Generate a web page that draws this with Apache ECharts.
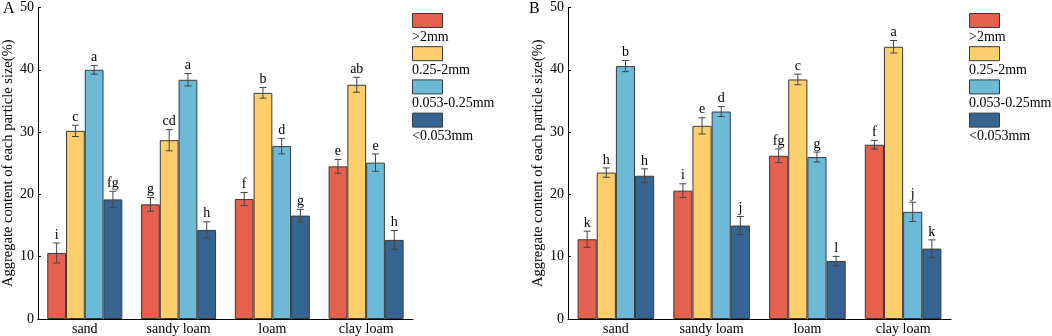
<!DOCTYPE html>
<html><head><meta charset="utf-8">
<script src="https://cdn.jsdelivr.net/npm/echarts@6/dist/echarts.min.js"></script>
<style>html,body{margin:0;padding:0;background:#fff}#c{width:1052px;height:336px}</style>
</head><body><div id="c"></div>
<script>
// ---- data ----
const categories = ['sand', 'sandy loam', 'loam', 'clay loam'];
const seriesNames = ['>2mm', '0.25-2mm', '0.053-0.25mm', '<0.053mm'];
const yTicks = [0, 10, 20, 30, 40, 50];
const yTitle = 'Aggregate content of each particle size(%)';
const panelLabels = ['A', 'B'];

// Panel A
const aGt2 = [10.6, 18.4, 19.25, 24.5];
const aGt2Err = [1.6, 1.1, 1.05, 1.1];
const aGt2Let = ['i', 'g', 'f', 'e'];
const a025 = [30.2, 28.7, 36.3, 37.6];
const a025Err = [0.9, 1.7, 0.85, 1.2];
const a025Let = ['c', 'cd', 'b', 'ab'];
const a0053 = [40.0, 38.4, 27.75, 25.1];
const a0053Err = [0.7, 1.0, 1.25, 1.4];
const a0053Let = ['a', 'a', 'd', 'e'];
const aLt = [19.2, 14.3, 16.6, 12.7];
const aLtErr = [1.3, 1.3, 1.0, 1.5];
const aLtLet = ['fg', 'h', 'g', 'h'];

// Panel B
const bGt2 = [12.8, 20.6, 26.2, 27.97];
const bGt2Err = [1.3, 1.1, 1.1, 0.7];
const bGt2Let = ['k', 'i', 'fg', 'f'];
const b025 = [23.5, 31.0, 38.45, 43.7];
const b025Err = [0.75, 1.3, 0.85, 1.0];
const b025Let = ['h', 'e', 'c', 'a'];
const b0053 = [40.6, 33.3, 26.0, 17.2];
const b0053Err = [0.9, 0.8, 0.8, 1.55];
const b0053Let = ['b', 'd', 'g', 'j'];
const bLt = [23.0, 15.0, 9.3, 11.3];
const bLtErr = [1.1, 1.45, 0.75, 1.4];
const bLtLet = ['h', 'j', 'l', 'k'];

// ---- styles ----
const colors = ['#E5604F', '#FDCF6C', '#6CBAD6', '#376592'];
const FONT = '"Liberation Serif", "Times New Roman", serif';

const panels = [
  { vals: [aGt2, a025, a0053, aLt], errs: [aGt2Err, a025Err, a0053Err, aLtErr], lets: [aGt2Let, a025Let, a0053Let, aLtLet] },
  { vals: [bGt2, b025, b0053, bLt], errs: [bGt2Err, b025Err, b0053Err, bLtErr], lets: [bGt2Let, b025Let, b0053Let, bLtLet] }
];

const grids = [
  { left: 34, right: 639, top: 7.5, bottom: 17 },
  { left: 568, right: 101, top: 7.5, bottom: 17 }
];

const xAxes = [], yAxes = [], series = [];
const BAR_CAT_GAP = 0.2;
panels.forEach((p, gi) => {
  xAxes.push({
    type: 'category', gridIndex: gi, data: categories,
    axisLine: { lineStyle: { color: '#000', width: 1 } },
    axisTick: { show: false },
    axisLabel: { color: '#000', fontFamily: FONT, fontSize: 14, margin: 3 }
  });
  yAxes.push({
    type: 'value', gridIndex: gi, min: 0, max: 50, interval: 10,
    splitLine: { show: false },
    axisLine: { show: true, lineStyle: { color: '#000', width: 1 } },
    axisTick: { show: true, inside: true, length: 3, lineStyle: { color: '#000' } },
    axisLabel: { color: '#000', fontFamily: FONT, fontSize: 14, margin: 4 },
    name: yTitle, nameLocation: 'middle', nameGap: 19,
    nameTextStyle: { color: '#000', fontFamily: FONT, fontSize: 14.5 }
  });
  p.vals.forEach((v, si) => {
    series.push({
      type: 'bar', name: seriesNames[si], xAxisIndex: gi, yAxisIndex: gi,
      data: v, barGap: '0%', barCategoryGap: (BAR_CAT_GAP * 100) + '%',
      itemStyle: { color: colors[si], borderColor: '#3a3a3a', borderWidth: 1 },
      z: 2
    });
  });
  p.vals.forEach((v, si) => {
    const data = v.map((m, ci) => [ci, m - p.errs[si][ci], m + p.errs[si][ci], p.lets[si][ci]]);
    series.push({
      type: 'custom', name: seriesNames[si] + '_err' + gi, xAxisIndex: gi, yAxisIndex: gi,
      data: data, encode: { x: 0, y: [1, 2] }, z: 5, silent: true,
      renderItem: (params, api) => {
        const ci = api.value(0);
        const band = api.size([1, 0])[0];
        const bw = band * (1 - BAR_CAT_GAP) / 4;
        const cx = api.coord([ci, 0])[0] + (si - 1.5) * bw;
        const yl = api.coord([ci, api.value(1)])[1];
        const yh = api.coord([ci, api.value(2)])[1];
        const cap = 3.5;
        const st = { stroke: '#444', lineWidth: 1 };
        return {
          type: 'group', children: [
            { type: 'line', shape: { x1: cx, y1: yl, x2: cx, y2: yh }, style: st },
            { type: 'line', shape: { x1: cx - cap, y1: yl, x2: cx + cap, y2: yl }, style: st },
            { type: 'line', shape: { x1: cx - cap, y1: yh, x2: cx + cap, y2: yh }, style: st },
            { type: 'text', x: cx, y: yh - 1, style: { text: data[ci][3], fill: '#000', font: '14px ' + FONT, align: 'center', verticalAlign: 'bottom' } }
          ]
        };
      }
    });
  });
});

// legend text via graphic (text placed below each legend swatch)
const legendX = [412, 969];
const graphic = [];
legendX.forEach((lx, gi) => {
  seriesNames.forEach((n, i) => {
    graphic.push({ type: 'text', left: lx, top: 30 + i * 33, style: { text: n, fill: '#000', font: '14px ' + FONT } });
  });
  graphic.push({ type: 'text', left: gi === 0 ? 3 : 529, top: 1, style: { text: panelLabels[gi], fill: '#000', font: '16px ' + FONT } });
});

const legends = legendX.map((lx) => ({
  orient: 'vertical', left: lx, top: 13, padding: 0, icon: 'rect',
  itemWidth: 30, itemHeight: 14, itemGap: 18.2,
  data: seriesNames, formatter: () => '', selectedMode: false,
  itemStyle: { borderColor: '#3a3a3a', borderWidth: 1 },
  textStyle: { fontSize: 1 }
}));

const chart = echarts.init(document.getElementById('c'), null, { renderer: 'canvas' });
chart.setOption({
  animation: false, color: colors,
  grid: grids, xAxis: xAxes, yAxis: yAxes, series: series,
  legend: legends, graphic: graphic
});
</script></body></html>
